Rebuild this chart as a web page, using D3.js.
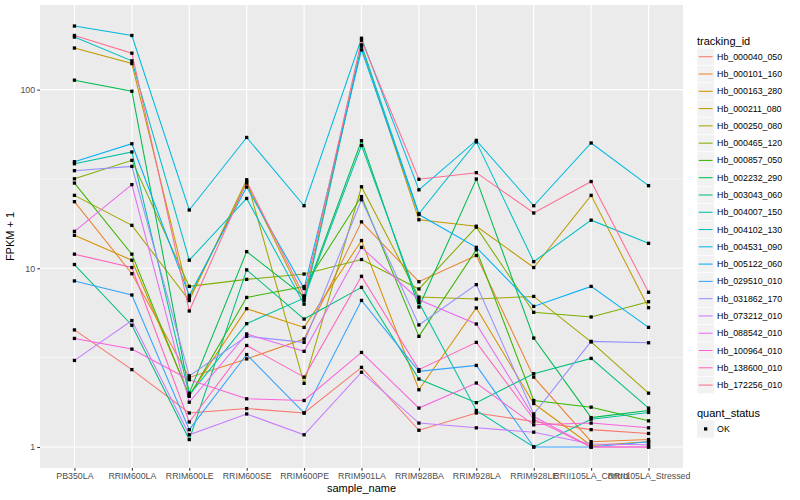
<!DOCTYPE html>
<html>
<head>
<meta charset="utf-8">
<script src="https://cdn.jsdelivr.net/npm/d3@7"></script>
<style>
  html, body { margin: 0; padding: 0; background: #ffffff; }
  svg { display: block; }
  text { font-family: "Liberation Sans", Arial, Helvetica, sans-serif; }
</style>
</head>
<body>
<svg id="chart" width="800" height="500"></svg>
<script>
// ---------------- data ----------------
const samples = ["PB350LA", "RRIM600LA", "RRIM600LE", "RRIM600SE", "RRIM600PE", "RRIM901LA",
                 "RRIM928BA", "RRIM928LA", "RRIM928LE", "RRII105LA_Control", "RRII105LA_Stressed"];

const trackingIds = ["Hb_000040_050", "Hb_000101_160", "Hb_000163_280", "Hb_000211_080", "Hb_000250_080",
                     "Hb_000465_120", "Hb_000857_050", "Hb_002232_290", "Hb_003043_060", "Hb_004007_150",
                     "Hb_004102_130", "Hb_004531_090", "Hb_005122_060", "Hb_029510_010", "Hb_031862_170",
                     "Hb_073212_010", "Hb_088542_010", "Hb_100964_010", "Hb_138600_010", "Hb_172256_010"];

const seriesColors = ["#F8766D", "#EA8331", "#D89000", "#C09B00", "#A3A500", "#7CAE00", "#39B600", "#00BB4E",
                      "#00BF7D", "#00C1A3", "#00BFC4", "#00BAE0", "#00B0F6", "#35A2FF", "#9590FF", "#C77CFF",
                      "#E76BF3", "#FA62DB", "#FF62BC", "#FF6C91"];

// FPKM + 1 per sample (same order as samples)
const hb000040 = [4.52, 2.71, 1.55, 1.64, 1.55, 2.79, 1.24, 1.55, 1.39, 1.25, 1.19];
const hb000101 = [23.6, 9.33, 2.45, 3.11, 4.02, 18.2, 8.41, 11.8, 2.46, 1.07, 1.10];
const hb000163 = [15.3, 11.1, 1.95, 5.94, 4.67, 14.3, 2.09, 6.0, 1.75, 1.02, 1.07];
const hb000211 = [171, 140, 6.8, 30.0, 6.6, 175, 18.7, 17.2, 10.1, 25.6, 6.02];
const hb000250 = [25.6, 17.4, 6.6, 31.3, 2.27, 28.6, 6.9, 6.73, 6.96, 3.87, 2.0];
const hb000465 = [31.7, 40.2, 7.92, 8.67, 9.29, 11.2, 7.66, 17.0, 5.67, 5.34, 6.5];
const hb000857 = [30, 12, 1.92, 6.87, 7.9, 25.2, 4.16, 12.7, 1.82, 1.67, 1.40];
const hb002232 = [113, 98, 2.0, 12.4, 6.96, 51.8, 6.07, 31.6, 4.07, 1.46, 1.60];
const hb003043 = [10.5, 4.8, 1.10, 9.8, 5.2, 7.82, 2.40, 1.77, 2.57, 3.13, 1.65];
const hb004007 = [38.5, 44.8, 1.95, 4.90, 6.8, 48.7, 6.44, 1.60, 1.0, 1.43, 1.56];
const hb004102 = [197, 145, 11.1, 24.6, 6.3, 178, 20.2, 51, 10.9, 18.6, 13.8];
const hb004531 = [227, 201, 21.2, 54, 22.4, 194, 27.5, 52, 22.4, 50.3, 29.0];
const hb005122 = [39.5, 49.8, 7.05, 28.5, 7.7, 167, 20.0, 13.1, 6.12, 7.92, 4.67];
const hb029510 = [8.5, 7.09, 1.25, 3.29, 1.55, 6.61, 2.65, 2.86, 1.0, 1.0, 1.07];
const hb031862 = [35.2, 37.2, 2.5, 4.16, 3.85, 24.2, 4.82, 8.1, 1.53, 3.90, 3.83];
const hb073212 = [3.05, 5.1, 1.17, 1.53, 1.17, 2.62, 1.36, 1.28, 1.21, 1.04, 1.03];
const hb088542 = [16.1, 29.4, 1.78, 4.29, 3.43, 13.1, 6.67, 4.88, 1.48, 1.0, 1.0];
const hb100964 = [4.05, 3.53, 2.38, 1.86, 1.82, 3.38, 1.65, 2.28, 1.33, 1.36, 1.28];
const hb138600 = [12, 10.1, 1.38, 3.70, 2.46, 9.02, 2.71, 3.85, 1.43, 1.0, 1.0];
const hb172256 = [201, 160, 5.77, 30.6, 7.0, 189, 31.5, 34.3, 20.4, 30.6, 7.34];

const yTicks = [1, 10, 100];
const yTickLabels = ["1", "10", "100"];
const yMinorTicks = [Math.sqrt(10), Math.sqrt(1000)];
const quantStatus = ["OK"];

// build series table
const seriesValues = [hb000040, hb000101, hb000163, hb000211, hb000250, hb000465, hb000857, hb002232,
                      hb003043, hb004007, hb004102, hb004531, hb005122, hb029510, hb031862, hb073212,
                      hb088542, hb100964, hb138600, hb172256];
const series = trackingIds.map((id, i) => ({
  id, color: seriesColors[i],
  points: samples.map((s, j) => ({ sample: s, value: seriesValues[i][j] }))
}));

// ---------------- layout ----------------
const svg = d3.select("#chart");
const panel = { left: 40, right: 683, top: 5, bottom: 468 };

const allVals = seriesValues.flat();
const lo = Math.log10(d3.min(allVals)), hi = Math.log10(d3.max(allVals));
const pad = (hi - lo) * 0.05;
const y = d3.scaleLog().domain([Math.pow(10, lo - pad), Math.pow(10, hi + pad)])
            .range([panel.bottom, panel.top]);
const x = d3.scalePoint().domain(samples).range([panel.left, panel.right]).padding(0.6);

// panel background
svg.append("rect").attr("x", panel.left).attr("y", panel.top)
  .attr("width", panel.right - panel.left).attr("height", panel.bottom - panel.top)
  .attr("fill", "#EBEBEB");

const grid = svg.append("g");
grid.selectAll("line.minor").data(yMinorTicks).join("line")
  .attr("x1", panel.left).attr("x2", panel.right)
  .attr("y1", d => y(d)).attr("y2", d => y(d))
  .attr("stroke", "#ffffff").attr("stroke-width", 0.55);
grid.selectAll("line.majy").data(yTicks).join("line")
  .attr("x1", panel.left).attr("x2", panel.right)
  .attr("y1", d => y(d)).attr("y2", d => y(d))
  .attr("stroke", "#ffffff").attr("stroke-width", 1.1);
grid.selectAll("line.majx").data(samples).join("line")
  .attr("x1", d => x(d)).attr("x2", d => x(d))
  .attr("y1", panel.top).attr("y2", panel.bottom)
  .attr("stroke", "#ffffff").attr("stroke-width", 1.1);

// lines
const line = d3.line().x(d => x(d.sample)).y(d => y(d.value));
svg.append("g").selectAll("path").data(series).join("path")
  .attr("d", d => line(d.points))
  .attr("fill", "none").attr("stroke", d => d.color).attr("stroke-width", 1.05);

// points
const ps = 3.3;
svg.append("g").selectAll("g").data(series).join("g")
  .selectAll("rect").data(d => d.points).join("rect")
  .attr("x", d => x(d.sample) - ps / 2).attr("y", d => y(d.value) - ps / 2)
  .attr("width", ps).attr("height", ps).attr("fill", "#000000");

// axes
const yAxis = d3.axisLeft(y).tickValues(yTicks).tickFormat((d, i) => yTickLabels[i])
  .tickSize(2.75).tickPadding(2.2);
const gy = svg.append("g").attr("transform", `translate(${panel.left},0)`).call(yAxis);
gy.select(".domain").remove();
gy.selectAll(".tick line").attr("stroke", "#333333").attr("stroke-width", 1.05);
gy.selectAll(".tick text").attr("fill", "#4D4D4D").style("font-size", "8.8px");

const xAxis = d3.axisBottom(x).tickSize(2.75).tickPadding(2.2);
const gx = svg.append("g").attr("transform", `translate(0,${panel.bottom})`).call(xAxis);
gx.select(".domain").remove();
gx.selectAll(".tick line").attr("stroke", "#333333").attr("stroke-width", 1.05);
gx.selectAll(".tick text").attr("fill", "#4D4D4D").style("font-size", "8.8px");

// axis titles
svg.append("text").attr("x", (panel.left + panel.right) / 2).attr("y", 492)
  .attr("text-anchor", "middle").style("font-size", "11px").attr("fill", "#000")
  .text("sample_name");
svg.append("text").attr("transform", `translate(14,${(panel.top + panel.bottom) / 2}) rotate(-90)`)
  .attr("text-anchor", "middle").style("font-size", "11px").attr("fill", "#000")
  .text("FPKM + 1");

// legend: tracking_id
const lg = svg.append("g");
const legX = 697, keyW = 17.28, row0 = 48.1;
lg.append("text").attr("x", legX).attr("y", 44.5).style("font-size", "11px").attr("fill", "#000")
  .text("tracking_id");
const rows = lg.selectAll("g.row").data(series).join("g")
  .attr("transform", (d, i) => `translate(${legX},${row0 + i * keyW})`);
rows.append("rect").attr("width", keyW).attr("height", keyW).attr("fill", "#F2F2F2")
  .attr("stroke", "#ffffff").attr("stroke-width", 0.6);
rows.append("line").attr("x1", 1.7).attr("x2", keyW - 1.7).attr("y1", keyW / 2).attr("y2", keyW / 2)
  .attr("stroke", d => d.color).attr("stroke-width", 1.05);
rows.append("text").attr("x", keyW + 2.8).attr("y", keyW / 2).attr("dy", "0.35em")
  .style("font-size", "8.8px").attr("fill", "#000").text(d => d.id);

// legend: quant_status
const qg = svg.append("g");
qg.append("text").attr("x", legX).attr("y", 416.5).style("font-size", "11px").attr("fill", "#000")
  .text("quant_status");
const qrows = qg.selectAll("g.q").data(quantStatus).join("g")
  .attr("transform", (d, i) => `translate(${legX},${420.3 + i * keyW})`);
qrows.append("rect").attr("width", keyW).attr("height", keyW).attr("fill", "#F2F2F2");
qrows.append("rect").attr("x", keyW / 2 - ps / 2).attr("y", keyW / 2 - ps / 2)
  .attr("width", ps).attr("height", ps).attr("fill", "#000");
qrows.append("text").attr("x", keyW + 2.8).attr("y", keyW / 2).attr("dy", "0.35em")
  .style("font-size", "8.8px").attr("fill", "#000").text(d => d);
</script>
</body>
</html>
